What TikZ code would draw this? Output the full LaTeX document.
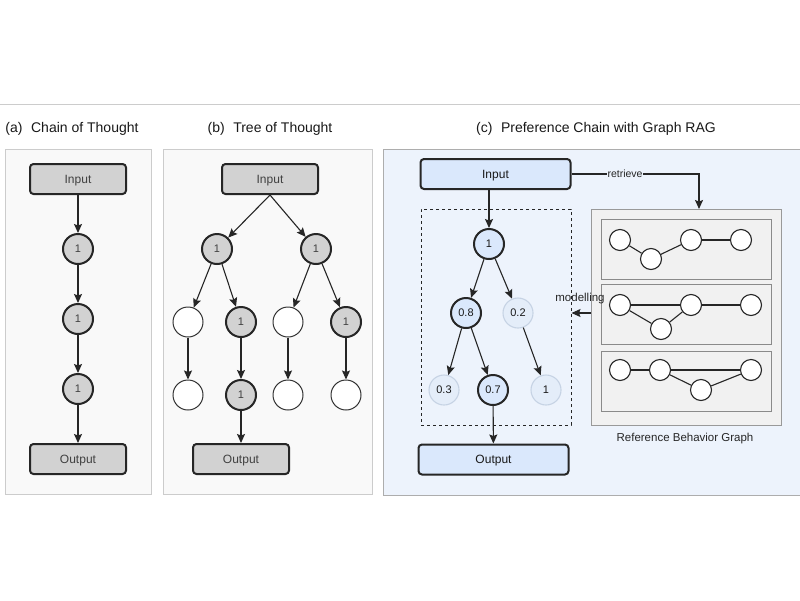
\documentclass[tikz,border=0pt]{standalone}
\usepackage{fontspec}
\setmainfont{Liberation Sans}
\usetikzlibrary{arrows.meta}
\definecolor{panelgray}{HTML}{F9F9F9}
\definecolor{panelline}{HTML}{CCCCCC}
\definecolor{nodegray}{HTML}{D2D2D2}
\definecolor{bgblue}{HTML}{EDF3FC}
\definecolor{nodeblue}{HTML}{DAE8FC}
\definecolor{paleblue}{HTML}{E4EDF9}
\definecolor{paleline}{HTML}{C6D3E4}
\definecolor{rgfill}{HTML}{F1F1F1}
\definecolor{rgline}{HTML}{999999}
\begin{document}
\begin{tikzpicture}[x=1pt,y=-1pt,
  panel/.style={draw=panelline, fill=panelgray, line width=1},
  gbox/.style={rectangle, rounded corners=3.5, draw=black!85, line width=2, fill=nodegray, minimum width=96, minimum height=30, font=\fontsize{12}{14}\selectfont, text=black!75, text height=8.6, text depth=0},
  bbox/.style={gbox, fill=nodeblue, minimum width=150, text=black!90},
  gcirc/.style={circle, draw=black!85, line width=2, fill=nodegray, minimum size=30, inner sep=0, font=\fontsize{11}{13}\selectfont, text=black!75},
  wcirc/.style={circle, draw=black!80, line width=1, fill=white, minimum size=30, inner sep=0},
  bcirc/.style={gcirc, fill=nodeblue, text=black!90},
  pcirc/.style={circle, draw=paleline, line width=1.1, fill=paleblue, minimum size=30, inner sep=0, font=\fontsize{11}{13}\selectfont, text=black!90},
  scirc/.style={circle, draw=black!85, line width=1.1, fill=white, minimum size=21, inner sep=0},
  arr/.style={-{Stealth[length=9,width=8,inset=1.5]}, line width=1.1, draw=black!85},
  edge/.style={line width=1.1, draw=black!85},
  title/.style={font=\fontsize{14}{17}\selectfont, text=black!90},
  lbl/.style={font=\fontsize{11.5}{13}\selectfont, text=black!85}]
\clip (0,0) rectangle (800,600);
\useasboundingbox (0,0) rectangle (800,600);
\fill[white] (0,0) rectangle (800,600);
\draw[panelline, line width=1] (0,104) -- (800,104);

% titles
\node[title] (ta) at (72,129) {(a)\,\, Chain of Thought};
\node[title] (tb) at (270,129) {(b)\,\, Tree of Thought};
\node[title] (tc) at (596,129) {(c)\,\, Preference Chain with Graph RAG};

% panels
\draw[panel] (5,149) rectangle (151,494);
\draw[panel] (163,149) rectangle (372,494);
\draw[draw=rgline!80, fill=bgblue, line width=1] (383,149) rectangle (805,495);

% (a)
\node[gbox] (ai) at (78,179) {Input};
\node[gcirc] (a1) at (78,249) {1};
\node[gcirc] (a2) at (78,319) {1};
\node[gcirc] (a3) at (78,389) {1};
\node[gbox] (ao) at (78,459) {Output};
\draw[arr] (ai) -- (a1);
\draw[arr] (a1) -- (a2);
\draw[arr] (a2) -- (a3);
\draw[arr] (a3) -- (ao);

% (b)
\node[gbox] (bi) at (270,179) {Input};
\node[gcirc] (b1) at (217,249) {1};
\node[gcirc] (b2) at (316,249) {1};
\node[wcirc] (b3) at (188,322) {};
\node[gcirc] (b4) at (241,322) {1};
\node[wcirc] (b5) at (288,322) {};
\node[gcirc] (b6) at (346,322) {1};
\node[wcirc] (b7) at (188,395) {};
\node[gcirc] (b8) at (241,395) {1};
\node[wcirc] (b9) at (288,395) {};
\node[wcirc] (b10) at (346,395) {};
\node[gbox] (bo) at (241,459) {Output};
\draw[arr] (bi.south) -- (b1);
\draw[arr] (bi.south) -- (b2);
\draw[arr] (b1) -- (b3);
\draw[arr] (b1) -- (b4);
\draw[arr] (b2) -- (b5);
\draw[arr] (b2) -- (b6);
\draw[arr] (b3) -- (b7);
\draw[arr] (b4) -- (b8);
\draw[arr] (b5) -- (b9);
\draw[arr] (b6) -- (b10);
\draw[arr] (b8) -- (bo);

% (c)
\node[bbox] (ci) at (495.5,174) {Input};
\node[draw=black!85, dashed, line width=1, minimum width=150, minimum height=216, inner sep=0] (db) at (496,317) {};
\node[bcirc] (c1) at (489,244) {1};
\node[bcirc] (c2) at (466,313) {0.8};
\node[pcirc] (c3) at (518,313) {0.2};
\node[pcirc] (c4) at (444,390) {0.3};
\node[bcirc] (c5) at (493,390) {0.7};
\node[pcirc] (c6) at (546,390) {1};
\node[bbox] (co) at (493.5,459.5) {Output};
\draw[arr] (c1 |- ci.south) -- (c1);
\draw[arr] (c1) -- (c2);
\draw[arr] (c1) -- (c3);
\draw[arr] (c2) -- (c4);
\draw[arr] (c2) -- (c5);
\draw[arr] (c3) -- (c6);
\draw[arr] (c5) -- (co);

% reference behavior graph
\node[draw=rgline, fill=rgfill, line width=1, minimum width=190, minimum height=216, inner sep=0] (rg) at (686,317) {};
\node[draw=rgline!90!black, fill=rgfill, line width=1, minimum width=170, minimum height=60, inner sep=0] (g1) at (686,249) {};
\node[draw=rgline!90!black, fill=rgfill, line width=1, minimum width=170, minimum height=60, inner sep=0] (g2) at (686,314) {};
\node[draw=rgline!90!black, fill=rgfill, line width=1, minimum width=170, minimum height=60, inner sep=0] (g3) at (686,381) {};

\node[scirc] (p1) at (620,240) {};
\node[scirc] (p2) at (651,259) {};
\node[scirc] (p3) at (691,240) {};
\node[scirc] (p4) at (741,240) {};
\draw[edge] (p1) -- (p2);
\draw[edge] (p2) -- (p3);
\draw[edge] (p3) -- (p4);

\node[scirc] (q1) at (620,305) {};
\node[scirc] (q2) at (691,305) {};
\node[scirc] (q3) at (751,305) {};
\node[scirc] (q4) at (661,329) {};
\draw[edge] (q1) -- (q2);
\draw[edge] (q2) -- (q3);
\draw[edge] (q1) -- (q4);
\draw[edge] (q4) -- (q2);

\node[scirc] (r1) at (620,370) {};
\node[scirc] (r2) at (660,370) {};
\node[scirc] (r3) at (751,370) {};
\node[scirc] (r4) at (701,390) {};
\draw[edge] (r1) -- (r2);
\draw[edge] (r2) -- (r3);
\draw[edge] (r2) -- (r4);
\draw[edge] (r4) -- (r3);

\node[lbl] (rgl) at (685,439) {Reference Behavior Graph};

% retrieve / modelling
\coordinate (rt) at (699,209);
\draw[arr] (ci.east) -- node[pos=0.42, fill=bgblue, inner sep=0.5, lbl, font=\fontsize{10.5}{12}\selectfont] (rl) {retrieve} (ci.east -| rt) -- (rt);
\coordinate (ms) at (591,313);
\draw[arr] (ms) -- (ms -| db.east);
\node[lbl] (ml) at (580,299) {modelling};
\end{tikzpicture}
\end{document}
